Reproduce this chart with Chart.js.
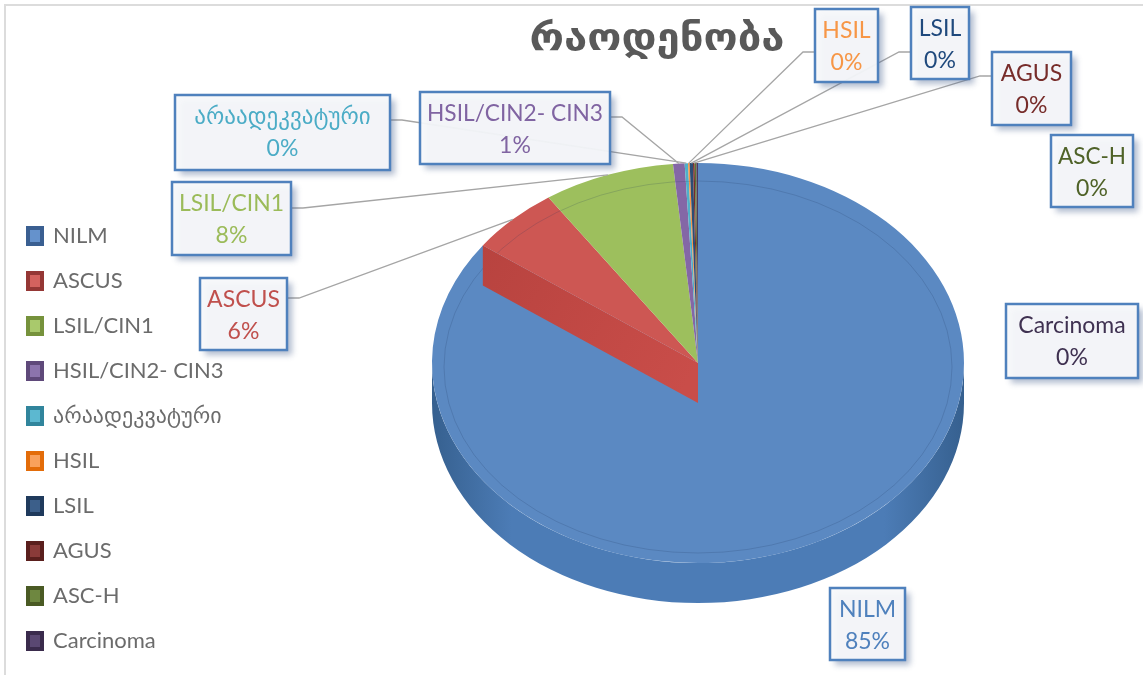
<!DOCTYPE html>
<html><head><meta charset="utf-8">
<script src="https://cdn.jsdelivr.net/npm/chart.js@4.4.1/dist/chart.umd.min.js"></script>
<style>
html,body{margin:0;padding:0;background:#fff;}
#wrap{position:relative;width:1143px;height:675px;overflow:hidden;background:#fff;}
#frame{position:absolute;left:4px;top:4px;width:1170px;height:700px;border-left:2px solid #dcdcdc;border-top:2px solid #dcdcdc;}
canvas{position:absolute;left:0;top:0;}
</style></head><body>
<div id="wrap"><div id="frame"></div><canvas id="c" width="1143" height="675"></canvas></div>
<script>
// ---- data ----
const chartTitle = 'რაოდენობა';
const categories = ['NILM','ASCUS','LSIL/CIN1','HSIL/CIN2- CIN3','არაადეკვატური','HSIL','LSIL','AGUS','ASC-H','Carcinoma'];
const counts = [850, 55, 80, 7, 2, 1, 2, 1, 1, 1];

// ---- styles ----
const topColors   = ['#5b89c2','#cd5753','#9dbf5d','#8467a6','#4fb0c9','#f79646','#2c4d75','#772c2a','#5f7530','#4d3b62'];
const wallDark    = ['#36608f','#9c3a37','#71903a','#5c467c','#31849b','#c0651e','#1b3352','#4f1b1a','#3d4c1e','#31253f'];
const wallMid     = ['#4c7cb6','#c14c48','#8fb050','#7659a0','#44a3bd','#e6862f','#27466c','#682624','#546a2a','#433455'];
const legendFill  = ['#6592cc','#d4625e','#a9c96c','#8c74ad','#5cb8d0','#f9a15c','#3c5f8a','#8a3b39','#6e8740','#5a4872'];
const legendStroke= ['#3a5f91','#953735','#76923c','#5f497a','#31859c','#e36c09','#1f3a5c','#5a1f1d','#4a5a24','#3a2b4c'];
const labelColors = ['#4f81bd','#c0504d','#9bbb59','#8064a2','#4bacc6','#f79646','#1f497d','#772c2a','#4f6228','#3f3151'];

const FONT = "Lato, 'DejaVu Sans', sans-serif";
const PIE = {x: 698, y: 363, rx: 266, ry: 200, depth: 40};
// label callout boxes: [x, y, w, h], leader side and attach offset
const LABEL_LAYOUT = [
  {box:[830,588,75,72]},
  {box:[200,278,87,72], side:'right', dy:20},
  {box:[172,182,119,73], side:'right', dy:26},
  {box:[420,92,190,72], side:'right', dy:25},
  {box:[175,95,215,75], side:'right', dy:25},
  {box:[815,9,63,73], side:'left', dy:43},
  {box:[911,7,58,72], side:'left', dy:45},
  {box:[992,52,79,73], side:'left', dy:24},
  {box:[1051,135,82,72]},
  {box:[1006,304,132,74]}
];

const total = counts.reduce((a,b)=>a+b,0);
const pctText = counts.map(v => Math.round(v/total*100) + '%');

function drawWall(ctx, s, e, i){
  const {x,y,rx,ry,depth} = PIE;
  ctx.beginPath();
  ctx.ellipse(x, y, rx, ry, 0, s, e, false);
  ctx.ellipse(x, y+depth, rx, ry, 0, e, s, true);
  ctx.closePath();
  const g = ctx.createLinearGradient(x-rx, 0, x+rx, 0);
  g.addColorStop(0, wallDark[i]);
  g.addColorStop(0.15, wallMid[i]);
  g.addColorStop(0.5, wallMid[i]);
  g.addColorStop(0.85, wallMid[i]);
  g.addColorStop(1, wallDark[i]);
  ctx.fillStyle = g;
  ctx.fill();
}

const pie3d = {
  id: 'pie3d',
  beforeDatasetsDraw(chart){
    const ctx = chart.ctx, meta = chart.getDatasetMeta(0);
    const el0 = meta.data[0];
    const R0 = el0.outerRadius, cx0 = el0.x, cy0 = el0.y;
    meta.data.forEach((el, i) => {
      const a1 = el.startAngle, a2 = el.endAngle;
      for (const off of [-2*Math.PI, 0, 2*Math.PI]) {
        const s = Math.max(a1, off), e = Math.min(a2, off + Math.PI);
        if (e > s) drawWall(ctx, s - off, e - off, i);
      }
    });
    ctx.save();
    ctx.translate(PIE.x, PIE.y);
    ctx.scale(PIE.rx / R0, PIE.ry / R0);
    ctx.translate(-cx0, -cy0);
  },
  afterDatasetsDraw(chart){
    const ctx = chart.ctx, meta = chart.getDatasetMeta(0);
    ctx.restore();
    const {x,y,rx,ry,depth} = PIE;
    // faint bevel line on the top face
    ctx.save();
    ctx.beginPath();
    ctx.ellipse(x, y+4, rx-12, ry-14, 0, 0, 2*Math.PI);
    ctx.strokeStyle = 'rgba(30,50,90,0.18)';
    ctx.lineWidth = 1;
    ctx.stroke();
    ctx.restore();
    // radial wall of the ASCUS slice (visible edge)
    const a = meta.data[1].startAngle;
    const px = x + rx*Math.cos(a), py = y + ry*Math.sin(a);
    ctx.beginPath();
    ctx.moveTo(x, y); ctx.lineTo(px, py); ctx.lineTo(px, py+depth); ctx.lineTo(x, y+depth); ctx.closePath();
    const g = ctx.createLinearGradient(px, py, x, y);
    g.addColorStop(0, '#b8433f'); g.addColorStop(1, '#c94d49');
    ctx.fillStyle = g; ctx.fill();

    // leader lines
    ctx.save();
    ctx.strokeStyle = '#a5a5a5';
    ctx.lineWidth = 1.3;
    meta.data.forEach((el, i) => {
      const L = LABEL_LAYOUT[i];
      if (!L.side) return;
      const mid = (el.startAngle + el.endAngle) / 2;
      const ax = x + rx*Math.cos(mid), ay = y + ry*Math.sin(mid);
      const [bx,by,bw,bh] = L.box;
      const sx = L.side === 'right' ? bx + bw : bx;
      const ex = L.side === 'right' ? sx + 12 : sx - 12;
      const sy = by + L.dy;
      ctx.beginPath();
      ctx.moveTo(sx, sy); ctx.lineTo(ex, sy); ctx.lineTo(ax, ay);
      ctx.stroke();
    });
    ctx.restore();

    // callout boxes
    meta.data.forEach((el, i) => {
      const [bx,by,bw,bh] = LABEL_LAYOUT[i].box;
      ctx.save();
      ctx.shadowColor = 'rgba(70,95,140,0.45)';
      ctx.shadowBlur = 6;
      ctx.shadowOffsetX = 5;
      ctx.shadowOffsetY = 5;
      ctx.fillStyle = 'rgba(247,249,251,0.93)';
      ctx.fillRect(bx, by, bw, bh);
      ctx.restore();
      ctx.save();
      ctx.strokeStyle = '#4f81bd';
      ctx.lineWidth = 2.5;
      ctx.strokeRect(bx, by, bw, bh);
      ctx.fillStyle = labelColors[i];
      ctx.textAlign = 'center';
      ctx.textBaseline = 'middle';
      const isGeo = /[\u10A0-\u10FF]/.test(categories[i]);
      ctx.font = (isGeo ? '23px ' : '23px ') + FONT;
      let tw = ctx.measureText(categories[i]).width;
      const cx = bx + bw/2;
      if (tw > bw - 14) {
        ctx.save(); ctx.translate(cx, by + 22); ctx.scale((bw-14)/tw, 1);
        ctx.fillText(categories[i], 0, 0); ctx.restore();
      } else {
        ctx.fillText(categories[i], cx, by + 22);
      }
      ctx.font = '23px ' + FONT;
      ctx.fillText(pctText[i], cx, by + 54);
      ctx.restore();
    });

    // title
    ctx.save();
    ctx.font = 'bold 38px ' + FONT;
    const tw = ctx.measureText(chartTitle).width;
    ctx.fillStyle = '#595959';
    ctx.textBaseline = 'alphabetic';
    ctx.textAlign = 'center';
    ctx.translate(657, 50);
    ctx.scale(255 / tw, 1);
    ctx.fillText(chartTitle, 0, 0);
    ctx.restore();
  }
};

new Chart(document.getElementById('c').getContext('2d'), {
  type: 'pie',
  data: {
    labels: categories,
    datasets: [{data: counts, backgroundColor: topColors, borderWidth: 0, clip: false}]
  },
  options: {
    responsive: false,
    animation: false,
    events: [],
    layout: {padding: {left: 5, top: 0, right: 0, bottom: 0}},
    plugins: {
      title: {display: false},
      tooltip: {enabled: false},
      legend: {
        position: 'left',
        align: 'end',
        labels: {
          font: {family: FONT, size: 22},
          color: '#6b6b6b',
          boxWidth: 14,
          boxHeight: 16,
          padding: 23,
          generateLabels: () => categories.map((t, i) => ({
            text: t, fillStyle: legendFill[i], strokeStyle: legendStroke[i],
            lineWidth: 4, hidden: false, index: i, datasetIndex: 0, fontColor: '#6b6b6b'
          }))
        }
      }
    }
  },
  plugins: [pie3d]
});
</script>
</body></html>
